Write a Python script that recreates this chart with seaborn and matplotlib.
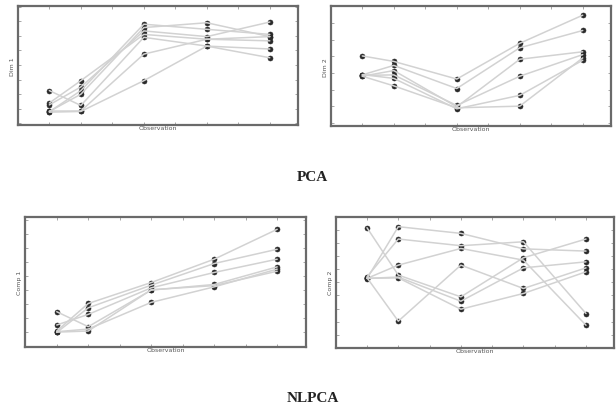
import matplotlib
matplotlib.use("Agg")
import matplotlib.pyplot as plt
import seaborn as sns
import numpy as np
import pandas as pd

# observation positions on the x axis
obs = [1, 2, 4, 6, 8]

# PCA, first component (one list per series)
pca1 = [
    [0.80, 2.25, 6.80, 6.45, 6.10],
    [0.82, 2.00, 6.57, 6.90, 5.95],
    [1.27, 2.50, 6.34, 5.95, 6.95],
    [1.40, 2.93, 6.10, 5.77, 5.66],
    [2.25, 1.23, 5.90, 5.30, 5.10],
    [0.77, 0.82, 2.93, 5.30, 4.50],
    [0.85, 0.85, 4.75, 5.77, 5.95],
]
# PCA, second component
pca2 = [
    [4.02, 3.69, 2.63, 4.78, 6.47],
    [2.88, 3.45, 2.06, 4.51, 5.55],
    [2.80, 3.14, 0.96, 3.82, 4.27],
    [2.85, 2.88, 1.04, 2.80, 4.10],
    [2.90, 2.67, 0.84, 1.65, 3.76],
    [2.80, 2.22, 0.90, 1.00, 3.90],
]
# NLPCA, first component
nlpca1 = [
    [1.05, 3.02, 4.52, 6.19, 8.33],
    [0.95, 2.71, 4.33, 5.88, 6.90],
    [1.48, 2.24, 4.14, 5.24, 6.19],
    [2.43, 1.36, 3.98, 4.38, 5.64],
    [1.00, 1.19, 3.10, 4.21, 5.48],
    [0.97, 1.05, 4.00, 4.30, 5.33],
]
# NLPCA, second component
nlpca2 = [
    [9.16, 5.55, 3.89, 6.87, 8.30],
    [5.42, 8.30, 7.79, 8.09, 2.62],
    [5.29, 9.24, 8.73, 7.55, 7.38],
    [5.30, 6.31, 7.58, 6.69, 1.73],
    [5.35, 2.04, 6.31, 4.53, 6.10],
    [5.30, 5.34, 2.95, 4.15, 5.80],
    [5.30, 5.40, 3.56, 6.10, 6.56],
]

ylabels = ["Dim 1", "Dim 2", "Comp 1", "Comp 2"]
xlabel = "Observation"
titles = ["PCA", "NLPCA"]


def to_long(series):
    rows = []
    for i, s in enumerate(series):
        for x, v in zip(obs, s):
            rows.append({"obs": x, "value": v, "series": i})
    return pd.DataFrame(rows)


sns.set_style("white")
fig = plt.figure(figsize=(6.16, 4.10), dpi=100)

# axes boxes (left, bottom, width, height) in figure fractions
boxes = [
    [0.029, 0.693, 0.455, 0.290],
    [0.537, 0.690, 0.455, 0.292],
    [0.041, 0.151, 0.455, 0.317],
    [0.545, 0.149, 0.452, 0.320],
]
ylims = [(-0.1, 8.05), (-0.2, 7.0), (-0.1, 9.2), (0, 10)]
datasets = [pca1, pca2, nlpca1, nlpca2]

for box, data, yl, lab in zip(boxes, datasets, ylims, ylabels):
    ax = fig.add_axes(box)
    df = to_long(data)
    sns.lineplot(data=df, x="obs", y="value", units="series", estimator=None,
                 color="#d2d2d2", lw=1.1, ax=ax, legend=False)
    sns.scatterplot(data=df, x="obs", y="value", marker="o", s=13,
                    color="#2a2a2a", edgecolor="#2a2a2a", linewidth=0.4,
                    ax=ax, legend=False)
    ax.set_xlim(0.0, 8.9)
    ax.set_ylim(*yl)
    ax.set_xticks(range(1, 9))
    ax.set_yticks(np.arange(np.ceil(yl[0]), yl[1], 1))
    ax.tick_params(direction="in", length=2, width=0.6, colors="#999999",
                   labelbottom=False, labelleft=False,
                   top=True, right=True, bottom=True, left=True)
    for sp in ax.spines.values():
        sp.set_color("#6a6a6a")
        sp.set_linewidth(1.6)
    ax.set_xlabel(xlabel, fontsize=4.5, color="#555555", labelpad=0)
    ax.set_ylabel(lab, fontsize=4.5, color="#555555", labelpad=2)

fig.text(0.507, 0.566, titles[0], ha="center", va="center",
         fontsize=11, fontweight="bold", family="Liberation Serif", color="#222222")
fig.text(0.508, 0.029, titles[1], ha="center", va="center",
         fontsize=11, fontweight="bold", family="Liberation Serif", color="#222222")

fig.savefig("out.png", dpi=100)
